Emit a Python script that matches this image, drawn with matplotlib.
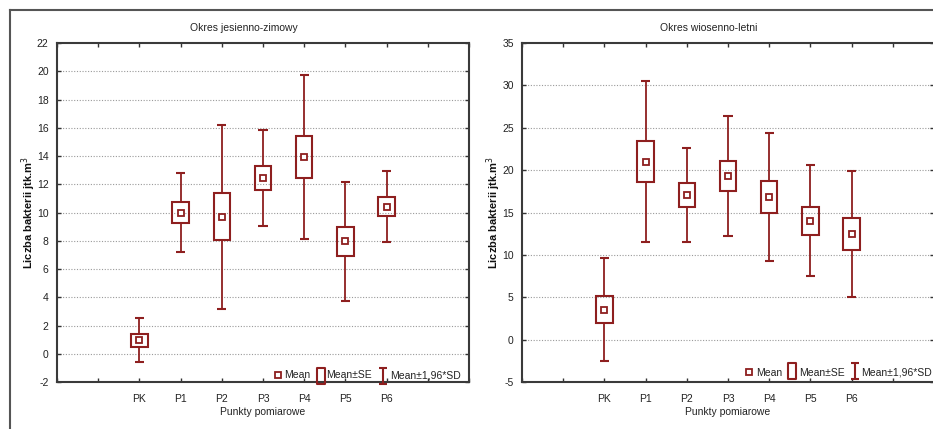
import matplotlib
matplotlib.use("Agg")
import matplotlib.pyplot as plt
from matplotlib.patches import Rectangle
from matplotlib.lines import Line2D
from matplotlib.path import Path

plt.rcParams['font.family'] = ['Liberation Sans', 'DejaVu Sans']

categories = ["PK", "P1", "P2", "P3", "P4", "P5", "P6"]

# Okres jesienno-zimowy
mean_az = [0.95, 10.0, 9.7, 12.45, 13.95, 7.95, 10.42]
se_az = [0.45, 0.75, 1.65, 0.85, 1.5, 1.05, 0.65]
sd196_az = [1.55, 2.77, 6.5, 3.4, 5.8, 4.2, 2.5]

# Okres wiosenno-letni
mean_sp = [3.55, 21.0, 17.05, 19.3, 16.8, 14.03, 12.5]
se_sp = [1.6, 2.44, 1.4, 1.81, 1.91, 1.67, 1.9]
sd196_sp = [6.05, 9.5, 5.58, 7.04, 7.57, 6.55, 7.42]

titles = ["Okres jesienno-zimowy", "Okres wiosenno-letni"]
xlabel = "Punkty pomiarowe"
ylabel = "Liczba bakterii jtk.m$^{3}$"
legend_labels = ["Mean", "Mean\u00b1SE", "Mean\u00b11,96*SD"]

RED = "#8e1f1f"
SPINE = "#3a3a3a"
FS = 7.5

W, H = 933, 429
fig = plt.figure(figsize=(W / 100, H / 100), dpi=100)

# outer frame lines
fig.add_artist(Line2D([10 / W, 10 / W], [0, 1 - 10 / H], color="#555555", lw=1.5, transform=fig.transFigure))
fig.add_artist(Line2D([10 / W, 1], [1 - 10 / H, 1 - 10 / H], color="#555555", lw=1.5, transform=fig.transFigure))

se_path = Path([(-0.45, -1), (0.45, -1), (0.45, 1), (-0.45, 1), (-0.45, -1)],
               [Path.MOVETO, Path.LINETO, Path.LINETO, Path.LINETO, Path.CLOSEPOLY])
sd_path = Path([(-0.5, 1), (0.5, 1), (0, 1), (0, -1), (-0.5, -1), (0.5, -1)],
               [Path.MOVETO, Path.LINETO, Path.MOVETO, Path.LINETO, Path.MOVETO, Path.LINETO])

AX_W_PX = 412
AX_H_PX = 339


def panel(rect_px, means, ses, sds, ylim, ystep, title, title_x, leg):
    x0, ytop = rect_px
    ax = fig.add_axes([x0 / W, 1 - (ytop + AX_H_PX) / H, AX_W_PX / W, AX_H_PX / H])
    ax.set_xlim(0, 10)
    ax.set_ylim(*ylim)
    positions = list(range(2, 2 + len(categories)))
    bw = 0.4
    cw = 0.22
    for x, m, s, d in zip(positions, means, ses, sds):
        ax.add_patch(Rectangle((x - bw / 2, m - s), bw, 2 * s, fill=False, ec=RED, lw=1.5, zorder=3))
        ax.vlines(x, m + s, m + d, color=RED, lw=1.3, zorder=3)
        ax.vlines(x, m - d, m - s, color=RED, lw=1.3, zorder=3)
        ax.hlines([m + d, m - d], x - cw / 2, x + cw / 2, color=RED, lw=1.5, zorder=3)
    ax.plot(positions, means, ls="none", marker="s", ms=4.5, mfc="white", mec=RED, mew=1.3, zorder=4)

    yt = list(range(ylim[0], ylim[1] + 1, ystep))
    ax.set_yticks(yt)
    ax.set_yticklabels([str(v) for v in yt])
    ax.set_xticks(range(0, 11))
    ax.set_xticklabels(["" if i not in positions else categories[i - 2] for i in range(11)])
    ax.tick_params(axis="both", direction="in", length=3, width=1, color="#333333",
                   labelsize=FS, top=True, right=True, labelcolor="#222222")
    ax.tick_params(axis="x", pad=9)
    ax.tick_params(axis="y", pad=6)
    for yv in yt[1:-1]:
        ax.axhline(yv, color="#9a9a9a", lw=0.8, ls=(0, (1, 1.5)), zorder=1)
    for sp in ax.spines.values():
        sp.set_color(SPINE)
        sp.set_linewidth(1.5)
    ax.set_xlabel(xlabel, fontsize=FS, color="#222222", labelpad=2)
    ax.set_ylabel(ylabel, fontsize=8, color="#111111", fontweight="bold")
    ax.yaxis.set_label_coords(-0.046, 0.5)
    fig.text(title_x, 1 - 28 / H, title, fontsize=FS, ha="center", va="center", color="#222222")

    # manual legend (positions in pixels relative to the axes)
    def fx(px):
        return (px - x0) / AX_W_PX

    def fy(py):
        return (ytop + AX_H_PX - py) / AX_H_PX

    mx, tx1, sex, tx2, sdx, tx3, ty, my = leg
    ax.plot([fx(mx)], [fy(ty)], transform=ax.transAxes, clip_on=False, ls="none", marker="s",
            ms=4, mfc="white", mec=RED, mew=1.3, zorder=5)
    ax.plot([fx(sex)], [fy(my)], transform=ax.transAxes, clip_on=False, ls="none", marker=se_path,
            ms=11.5, mfc="none", mec=RED, mew=1.5, zorder=5)
    ax.plot([fx(sdx)], [fy(my)], transform=ax.transAxes, clip_on=False, ls="none", marker=sd_path,
            ms=11.5, mfc="none", mec=RED, mew=1.5, zorder=5)
    for tx, lab in zip([tx1, tx2, tx3], legend_labels):
        ax.text(fx(tx), fy(ty + 3.5), lab, transform=ax.transAxes, fontsize=FS, ha="left",
                va="baseline", color="#222222", zorder=5)
    return ax


panel((57, 43), mean_az, se_az, sd196_az, (-2, 22), 2, titles[0], 244 / W,
      (278, 284, 321.5, 326, 383, 390, 375, 376))
panel((522, 43), mean_sp, se_sp, sd196_sp, (-5, 35), 5, titles[1], 709 / W,
      (749, 756, 792, 799, 855, 861, 372, 371))

fig.savefig("out.png", dpi=100)
